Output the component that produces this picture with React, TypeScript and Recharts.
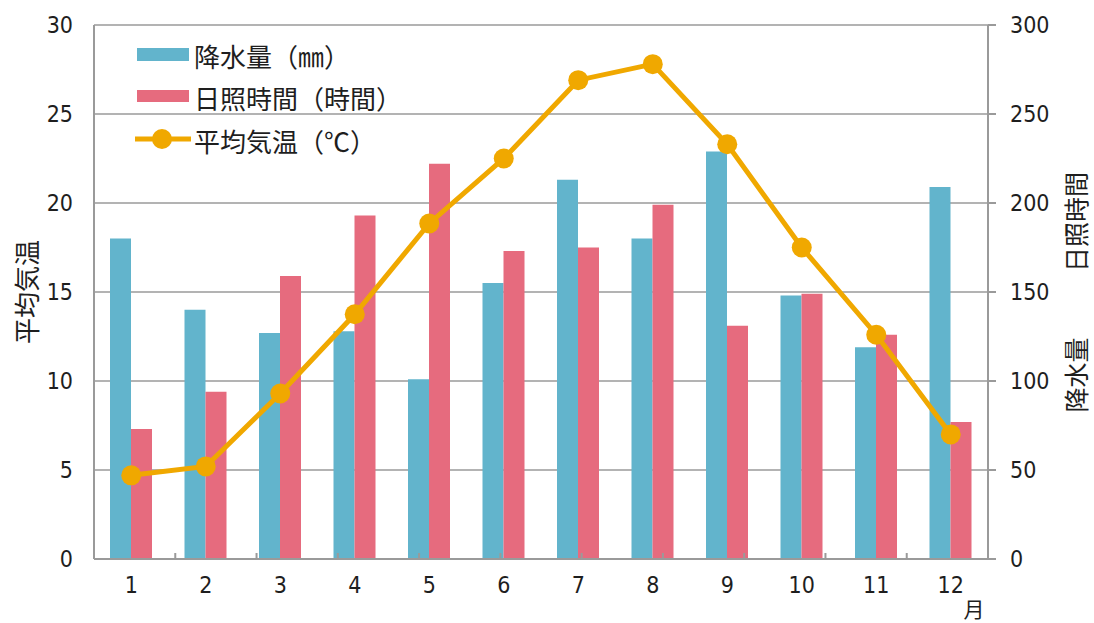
import React from 'react';
import { ComposedChart, Bar, Line, XAxis, YAxis, CartesianGrid, Legend, Label } from 'recharts';

const months = ['1', '2', '3', '4', '5', '6', '7', '8', '9', '10', '11', '12'];
const rain = [180, 140, 127, 128, 101, 155, 213, 180, 229, 148, 119, 209];
const sun = [73, 94, 159, 193, 222, 173, 175, 199, 131, 149, 126, 77];
const temp = [4.7, 5.2, 9.3, 13.75, 18.85, 22.5, 26.9, 27.8, 23.3, 17.5, 12.6, 7.0];
const leftTicks = [0, 5, 10, 15, 20, 25, 30];
const rightTicks = [0, 50, 100, 150, 200, 250, 300];
const boundaryTicks = [1, 2, 3, 4, 5, 6, 7, 8, 9, 10, 11];

const data = months.map((m, i) => ({ month: m, rain: rain[i], sun: sun[i], temp: temp[i] }));

const BLUE = '#62B4CC';
const RED = '#E66B7E';
const ORANGE = '#F0A800';
const GRID = '#9A9A9A';
const TEXT = '#1E1E1E';
const NUM_FONT = '"Liberation Sans Narrow", "DejaVu Sans Condensed", "Noto Sans CJK JP", sans-serif';
const JP_FONT = '"Noto Sans CJK JP", sans-serif';

const renderLegend = () => (
  <svg width={330} height={130} style={{ display: 'block' }}>
    <rect x={9} y={12} width={52} height={13} fill={BLUE} />
    <text x={66} y={19} fontSize={26} fontFamily={JP_FONT} fill={TEXT} dominantBaseline="central">降水量（㎜）</text>
    <rect x={9} y={54} width={52} height={12} fill={RED} />
    <text x={66} y={61} fontSize={26} fontFamily={JP_FONT} fill={TEXT} dominantBaseline="central">日照時間（時間）</text>
    <line x1={7} y1={103} x2={63} y2={103} stroke={ORANGE} strokeWidth={5} />
    <circle cx={34} cy={103} r={10} fill={ORANGE} />
    <text x={66} y={104} fontSize={26} fontFamily={JP_FONT} fill={TEXT} dominantBaseline="central">平均気温（℃）</text>
  </svg>
);

const EmptyTick = () => <g />;

export default function App() {
  return (
    <div style={{ position: 'absolute', left: 0, top: 0, width: 1094, height: 623, overflow: 'hidden' }}>
      <ComposedChart
        width={1094}
        height={623}
        data={data}
        margin={{ top: 25, right: 46, left: 34, bottom: 24 }}
        barGap={0}
      >
        <CartesianGrid yAxisId="temp" vertical={false} stroke={GRID} strokeWidth={1.5} />
        <XAxis
          dataKey="month"
          xAxisId="cat"
          height={40}
          tickLine={false}
          axisLine={{ stroke: GRID, strokeWidth: 2 }}
          tick={{ fontSize: 23, fill: TEXT, fontFamily: NUM_FONT }}
          tickMargin={12}
          interval={0}
        >
          <Label
            content={() => (
              <text x={974} y={608} fontSize={21} fontFamily={JP_FONT} fill={TEXT} textAnchor="middle" dominantBaseline="central">月</text>
            )}
          />
        </XAxis>
        <XAxis
          xAxisId="bound"
          type="number"
          domain={[0, 12]}
          ticks={boundaryTicks}
          mirror
          height={30}
          tickSize={6}
          tick={EmptyTick}
          axisLine={false}
          tickLine={{ stroke: GRID, strokeWidth: 2 }}
          interval={0}
        />
        <YAxis
          yAxisId="temp"
          orientation="left"
          width={60}
          domain={[0, 30]}
          ticks={leftTicks}
          tickLine={false}
          tickSize={0}
          tickMargin={21}
          axisLine={{ stroke: GRID, strokeWidth: 2 }}
          tick={{ fontSize: 23, fill: TEXT, fontFamily: NUM_FONT }}
        >
          <Label
            content={() => (
              <text x={25} y={292} transform="rotate(-90 25 292)" fontSize={26} fontFamily={JP_FONT} fill={TEXT} textAnchor="middle" dominantBaseline="central">平均気温</text>
            )}
          />
        </YAxis>
        <YAxis
          yAxisId="bar"
          orientation="right"
          width={60}
          domain={[0, 300]}
          ticks={rightTicks}
          tickSize={8}
          tickMargin={14}
          tickLine={{ stroke: GRID, strokeWidth: 2 }}
          axisLine={{ stroke: GRID, strokeWidth: 2 }}
          tick={{ fontSize: 23, fill: TEXT, fontFamily: NUM_FONT }}
        >
          <Label
            content={() => (
              <g>
                <text x={1075} y={222} transform="rotate(-90 1075 222)" fontSize={25} fontFamily={JP_FONT} fill={TEXT} textAnchor="middle" dominantBaseline="central">日照時間</text>
                <text x={1075} y={375} transform="rotate(-90 1075 375)" fontSize={25} fontFamily={JP_FONT} fill={TEXT} textAnchor="middle" dominantBaseline="central">降水量</text>
              </g>
            )}
          />
        </YAxis>
        <Legend
          layout="horizontal"
          verticalAlign="middle"
          align="center"
          content={renderLegend}
          wrapperStyle={{ position: 'absolute', left: 128, top: 36, width: 330, height: 130 }}
        />
        <Bar xAxisId="cat" yAxisId="bar" dataKey="rain" fill={BLUE} barSize={21} isAnimationActive={false} />
        <Bar xAxisId="cat" yAxisId="bar" dataKey="sun" fill={RED} barSize={21} isAnimationActive={false} />
        <Line
          xAxisId="cat"
          yAxisId="temp"
          type="linear"
          dataKey="temp"
          stroke={ORANGE}
          strokeWidth={5}
          dot={{ r: 10, fill: ORANGE, stroke: 'none' }}
          activeDot={false}
          isAnimationActive={false}
        />
      </ComposedChart>
    </div>
  );
}
